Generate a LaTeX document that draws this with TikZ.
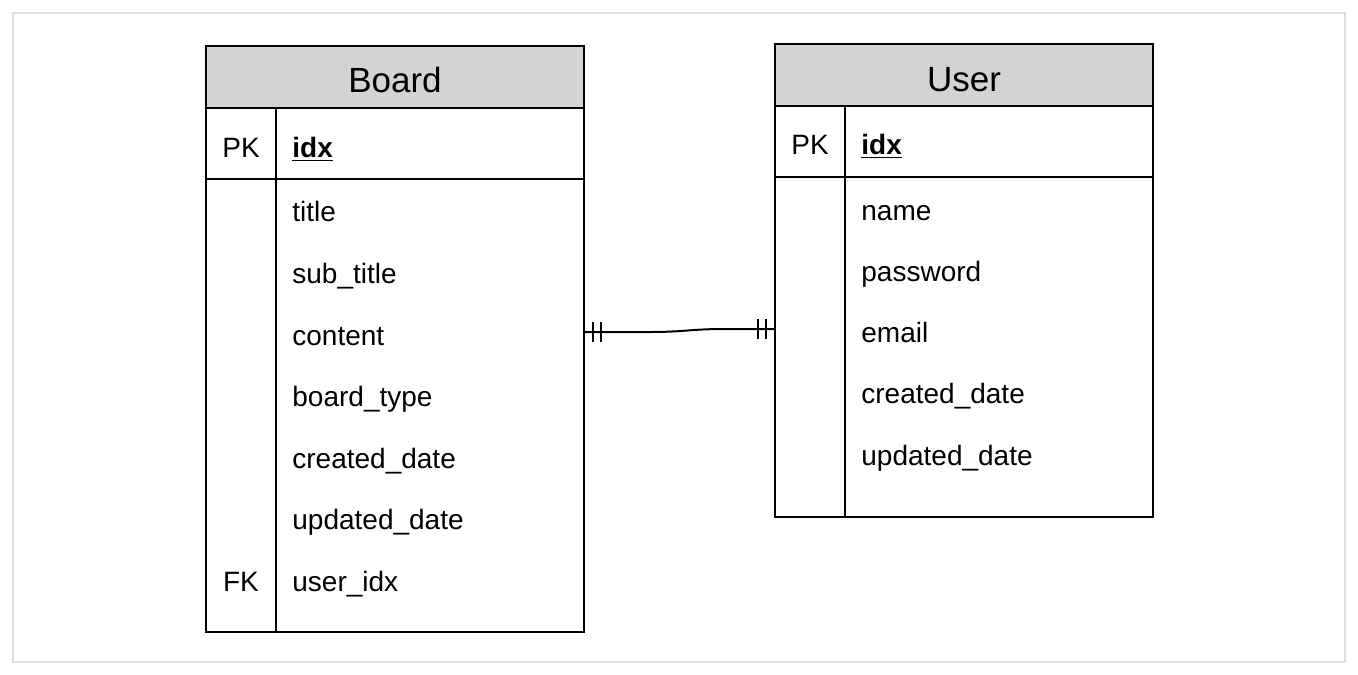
\documentclass[tikz,border=0pt]{standalone}
\usepackage{fontspec}
\setmainfont{Liberation Sans}
\definecolor{headgray}{RGB}{211,211,211}
\definecolor{framegray}{RGB}{222,222,222}
\begin{document}
\begin{tikzpicture}[x=0.5pt,y=-0.5pt,
  ent/.style={draw=black,line width=1pt},
  head/.style={ent,fill=headgray},
  headtxt/.style={font=\fontsize{17.5}{21}\selectfont,anchor=base},
  keytxt/.style={font=\fontsize{14}{17}\selectfont,anchor=base},
  rowtxt/.style={font=\fontsize{14}{17}\selectfont,anchor=base west,inner xsep=0pt}]
\useasboundingbox (0,0) rectangle (1358,674);
\draw[framegray,line width=0.75pt] (13,13) rectangle (1345,662);
% Board
\draw[head] (206,46) rectangle (584,108);
\draw[ent] (206,108) rectangle (584,632);
\draw[ent] (206,179) -- (584,179);
\draw[ent] (276,108) -- (276,632);
\node[headtxt] (bname) at (395,92) {Board};
\node[keytxt] (bpk) at (241,157) {PK};
\node[rowtxt] (bidx) at (292,157) {\textbf{\underline{idx}}};
\foreach \y/\t/\n in {221/title/btitle,283/sub\_title/bsub,345/content/bcontent,
  406/board\_type/btype,468/created\_date/bcreated,529/updated\_date/bupdated,
  591/user\_idx/buser}
  \node[rowtxt] (\n) at (292,\y) {\t};
\node[keytxt] (bfk) at (241,591) {FK};
% User
\draw[head] (775,44) rectangle (1153,106);
\draw[ent] (775,106) rectangle (1153,517);
\draw[ent] (775,177) -- (1153,177);
\draw[ent] (845,106) -- (845,517);
\node[headtxt] (uname) at (964,91) {User};
\node[keytxt] (upk) at (810,154) {PK};
\node[rowtxt] (uidx) at (861,154) {\textbf{\underline{idx}}};
\foreach \y/\t/\n in {220/name/uname2,281/password/upass,342/email/uemail,
  403/created\_date/ucreated,465/updated\_date/uupdated}
  \node[rowtxt] (\n) at (861,\y) {\t};
% relation
\coordinate (bl) at (584,332);
\coordinate (ur) at (775,329);
\draw[ent] (bl) -- (650,332) .. controls (685,332) and (690,329) .. (725,329) -- (ur);
\draw[ent] (bl) ++(9,-10) -- ++(0,20);
\draw[ent] (bl) ++(17,-10) -- ++(0,20);
\draw[ent] (ur) ++(-9,-10) -- ++(0,20);
\draw[ent] (ur) ++(-17,-10) -- ++(0,20);
\end{tikzpicture}
\end{document}
